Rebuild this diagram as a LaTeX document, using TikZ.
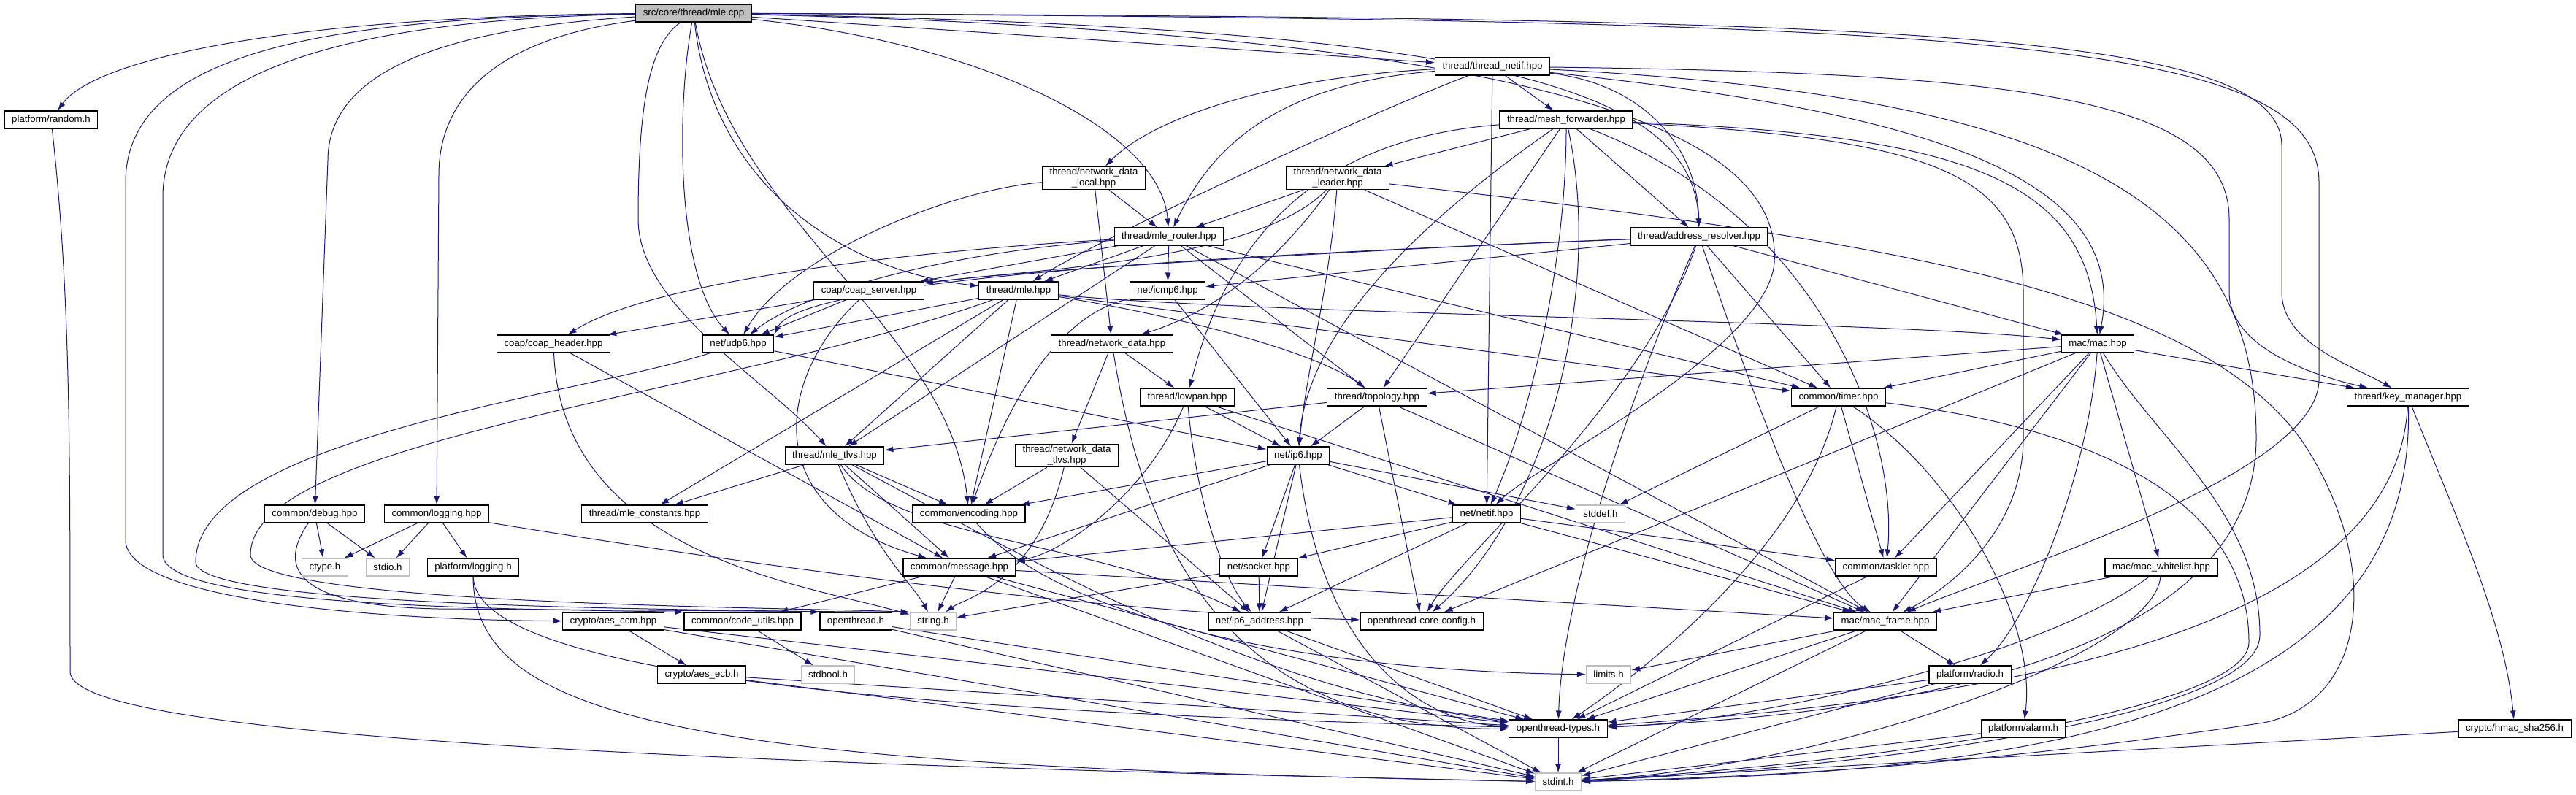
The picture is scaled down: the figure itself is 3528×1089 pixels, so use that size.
\documentclass[tikz,border=0pt]{standalone}
\usepackage{fontspec}
\setmainfont{Liberation Sans}
\usetikzlibrary{arrows.meta,backgrounds}
\definecolor{edgeblue}{RGB}{25,25,112}
\definecolor{sysgray}{RGB}{191,191,191}

\begin{document}
\begin{tikzpicture}[
    x=1pt, y=-1pt,
    hdrbox/.style={draw=black, line width=1.1pt, fill=white,
      font=\fontsize{13.25}{15}\selectfont, minimum height=24pt,
      inner xsep=10pt, inner ysep=2pt, align=center},
    sysbox/.style={hdrbox, draw=sysgray},
    rootbox/.style={hdrbox, fill=sysgray},
    dep/.style={draw=edgeblue, line width=1pt, -{Latex[length=12pt,width=8pt]}}
  ]
  \useasboundingbox (0,0) rectangle (3528,1089);

  % files
  \node[rootbox] (root) at (950,18) {src/core/thread/mle.cpp};
  \node[hdrbox] (random) at (70,164) {platform/random.h};
  \node[hdrbox] (tnetif) at (2044,91) {thread/thread\_netif.hpp};
  \node[hdrbox] (meshfwd) at (2145,164) {thread/mesh\_forwarder.hpp};
  \node[hdrbox] (ndlocal) at (1498,244) {thread/network\_data\\\_local.hpp};
  \node[hdrbox] (ndleader) at (1832,244) {thread/network\_data\\\_leader.hpp};
  \node[hdrbox] (mlerouter) at (1601,324) {thread/mle\_router.hpp};
  \node[hdrbox] (addrres) at (2327,324) {thread/address\_resolver.hpp};
  \node[hdrbox] (coapsrv) at (1190,398) {coap/coap\_server.hpp};
  \node[hdrbox] (mle) at (1395,398) {thread/mle.hpp};
  \node[hdrbox] (icmp) at (1599,398) {net/icmp6.hpp};
  \node[hdrbox] (coaphdr) at (758,471) {coap/coap\_header.hpp};
  \node[hdrbox] (udp) at (1011,471) {net/udp6.hpp};
  \node[hdrbox] (netdata) at (1523,471) {thread/network\_data.hpp};
  \node[hdrbox] (mac) at (2873,471) {mac/mac.hpp};
  \node[hdrbox] (lowpan) at (1626,544) {thread/lowpan.hpp};
  \node[hdrbox] (topo) at (1886,544) {thread/topology.hpp};
  \node[hdrbox] (timer) at (2518,544) {common/timer.hpp};
  \node[hdrbox] (keymgr) at (3298,544) {thread/key\_manager.hpp};
  \node[hdrbox] (mletlvs) at (1143,624) {thread/mle\_tlvs.hpp};
  \node[hdrbox] (ndtlvs) at (1461,624) {thread/network\_data\\\_tlvs.hpp};
  \node[hdrbox] (ip6) at (1778,624) {net/ip6.hpp};
  \node[hdrbox] (debug) at (431,704) {common/debug.hpp};
  \node[hdrbox] (logging) at (598,704) {common/logging.hpp};
  \node[hdrbox] (mleconst) at (883,704) {thread/mle\_constants.hpp};
  \node[hdrbox] (encoding) at (1327,704) {common/encoding.hpp};
  \node[hdrbox] (netif) at (2036,704) {net/netif.hpp};
  \node[sysbox] (stddef) at (2192,704) {stddef.h};
  \node[sysbox] (ctype) at (445,777) {ctype.h};
  \node[sysbox] (stdio) at (531,777) {stdio.h};
  \node[hdrbox] (plog) at (648,777) {platform/logging.h};
  \node[hdrbox] (message) at (1314,777) {common/message.hpp};
  \node[hdrbox] (socket) at (1724,777) {net/socket.hpp};
  \node[hdrbox] (tasklet) at (2583,777) {common/tasklet.hpp};
  \node[hdrbox] (whitelist) at (2960,777) {mac/mac\_whitelist.hpp};
  \node[hdrbox] (aesccm) at (840,851) {crypto/aes\_ccm.hpp};
  \node[hdrbox] (codeutils) at (1017,851) {common/code\_utils.hpp};
  \node[hdrbox] (othread) at (1172,851) {openthread.h};
  \node[sysbox] (string) at (1278,851) {string.h};
  \node[hdrbox] (ip6addr) at (1725,851) {net/ip6\_address.hpp};
  \node[hdrbox] (coreconf) at (1947,851) {openthread-core-config.h};
  \node[hdrbox] (macframe) at (2582,851) {mac/mac\_frame.hpp};
  \node[hdrbox] (aesecb) at (961,924) {crypto/aes\_ecb.h};
  \node[sysbox] (stdbool) at (1134,924) {stdbool.h};
  \node[sysbox] (limits) at (2203,924) {limits.h};
  \node[hdrbox] (radio) at (2698,924) {platform/radio.h};
  \node[hdrbox] (ottypes) at (2134,998) {openthread-types.h};
  \node[hdrbox] (alarm) at (2771,998) {platform/alarm.h};
  \node[hdrbox] (hmac) at (3444,998) {crypto/hmac\_sha256.h};
  \node[sysbox] (stdint) at (2134,1071) {stdint.h};

  \begin{scope}[on background layer]
  % includes of mle.cpp
  \draw[dep] (root) .. controls (400,22) and (130,80) .. (random);
  \draw[dep] (root) .. controls (450,24) and (172,70) .. (172,250) -- (172,740) .. controls (172,820) and (500,849) .. (aesccm);
  \draw[dep] (root) .. controls (500,26) and (223,90) .. (223,270) -- (223,760) .. controls (223,832) and (700,834) .. (codeutils.north west);
  \draw[dep] (root) .. controls (600,40) and (449,100) .. (449,220) -- (debug);
  \draw[dep] (root) .. controls (700,50) and (601,120) .. (601,240) -- (logging);
  \draw[dep] (root) .. controls (890,60) and (874,140) .. (874,300) .. controls (874,420) and (1050,520) .. (mletlvs);
  \draw[dep] (root) .. controls (926,150) and (926,380) .. (udp);
  \draw[dep] (root) .. controls (975,250) and (1150,370) .. (mle);
  \draw[dep] (root) .. controls (1000,300) and (1300,450) .. (encoding);
  \draw[dep] (root) .. controls (1350,60) and (1590,180) .. (mlerouter);
  \draw[dep] (root) -- (tnetif);
  \draw[dep] (root) .. controls (2000,38) and (2320,110) .. (addrres);
  \draw[dep] (root) .. controls (2200,48) and (2440,200) .. (2430,360) .. controls (2420,480) and (2100,640) .. (netif);
  \draw[dep] (root) .. controls (2600,25) and (3125,40) .. (3125,200) -- (3125,400) .. controls (3125,470) and (3220,500) .. (keymgr);
  \draw[dep] (root) .. controls (2700,28) and (3176,50) .. (3176,250) -- (3176,520) .. controls (3176,650) and (2750,780) .. (macframe);

  % thread headers
  \draw[dep] (tnetif) -- (meshfwd);
  \draw[dep] (tnetif) -- (netif);
  \draw[dep] (tnetif) .. controls (1750,105) and (1580,160) .. (ndlocal);
  \draw[dep] (tnetif) .. controls (1750,115) and (1660,200) .. (mlerouter);
  \draw[dep] (tnetif) .. controls (1850,165) and (1500,330) .. (mle);
  \draw[dep] (tnetif) .. controls (2250,115) and (2325,200) .. (addrres);
  \draw[dep] (tnetif) .. controls (2600,150) and (2920,230) .. (mac);
  \draw[dep] (tnetif) .. controls (2750,100) and (3053,130) .. (3053,300) -- (3053,400) .. controls (3053,470) and (3150,510) .. (keymgr);
  \draw[dep] (tnetif) .. controls (2800,130) and (3090,260) .. (3090,600) .. controls (3090,900) and (2600,980) .. (ottypes);

  \foreach \t in {ndleader,topo,addrres} \draw[dep] (meshfwd) -- (\t);
  \draw[dep] (meshfwd) .. controls (1950,300) and (1790,450) .. (ip6);
  \draw[dep] (meshfwd) .. controls (1800,190) and (1680,330) .. (lowpan);
  \draw[dep] (meshfwd) .. controls (2145,350) and (2100,560) .. (netif);
  \draw[dep] (meshfwd) .. controls (2196,400) and (2120,700) .. (coreconf);
  \draw[dep] (meshfwd) .. controls (2700,185) and (2860,250) .. (mac);
  \draw[dep] (meshfwd) .. controls (2500,300) and (2600,600) .. (tasklet);
  \draw[dep] (meshfwd) .. controls (2650,190) and (2771,240) .. (2771,400) -- (2771,600) .. controls (2771,720) and (2680,800) .. (macframe);

  \draw[dep] (ndlocal) -- (mlerouter);
  \draw[dep] (ndlocal) -- (netdata);
  \draw[dep] (ndlocal) .. controls (1300,260) and (1080,350) .. (udp);

  \draw[dep] (ndleader) -- (mlerouter);
  \draw[dep] (ndleader) -- (timer);
  \draw[dep] (ndleader) .. controls (1720,400) and (1620,440) .. (netdata);
  \draw[dep] (ndleader) .. controls (1720,360) and (1400,370) .. (coapsrv);
  \draw[dep] (ndleader) .. controls (1820,400) and (1790,500) .. (ip6);
  \draw[dep] (ndleader) .. controls (2600,330) and (3000,400) .. (3150,600) .. controls (3260,760) and (3250,960) .. (3100,990) .. controls (2700,1050) and (2400,1065) .. (stdint);

  \foreach \t in {coapsrv,mle,icmp,mletlvs,topo,timer,macframe} \draw[dep] (mlerouter) -- (\t);
  \draw[dep] (mlerouter) .. controls (1300,340) and (900,380) .. (coaphdr);
  \draw[dep] (mlerouter) .. controls (1300,345) and (1100,400) .. (udp);

  \foreach \t in {icmp,timer,mac} \draw[dep] (addrres) -- (\t);
  \draw[dep] (addrres) .. controls (1900,340) and (1400,370) .. (coapsrv);
  \draw[dep] (addrres) .. controls (1800,345) and (1100,375) .. (udp.north east);
  \draw[dep] (addrres) .. controls (2250,550) and (2000,760) .. (coreconf);
  \draw[dep] (addrres) .. controls (2250,500) and (2140,800) .. (ottypes);
  \draw[dep] (addrres) .. controls (2420,600) and (2500,800) .. (macframe);

  \draw[dep] (coapsrv) -- (coaphdr);
  \draw[dep] (coapsrv) -- (udp);
  \draw[dep] (coapsrv) .. controls (1060,520) and (1040,700) .. (message);
  \draw[dep] (coaphdr) -- (message);
  \draw[dep] (coaphdr) .. controls (770,760) and (1100,800) .. (string);

  \foreach \t in {udp,mletlvs,encoding,mleconst,timer} \draw[dep] (mle) -- (\t);
  \draw[dep] (mle) .. controls (1700,430) and (2600,440) .. (mac);
  \draw[dep] (mle) .. controls (1600,430) and (1800,480) .. (topo);
  \draw[dep] (mle) .. controls (1000,540) and (343,600) .. (343,760) .. controls (343,830) and (1100,832) .. (string.north west);

  \draw[dep] (udp) -- (ip6);
  \draw[dep] (udp) .. controls (800,540) and (268,600) .. (268,770) .. controls (268,835) and (1000,834) .. (othread.north west);
  \draw[dep] (icmp) -- (ip6);
  \draw[dep] (icmp) .. controls (1450,430) and (1380,550) .. (encoding);

  \draw[dep] (netdata) -- (lowpan);
  \draw[dep] (netdata) -- (ndtlvs);
  \draw[dep] (netdata) .. controls (1560,700) and (1650,1000) .. (ottypes);
  \draw[dep] (lowpan) -- (ip6);
  \draw[dep] (lowpan) -- (macframe);
  \draw[dep] (lowpan) .. controls (1640,700) and (1680,800) .. (ip6addr);
  \draw[dep] (lowpan) .. controls (1570,680) and (1450,760) .. (message);
  \foreach \t in {ip6,mletlvs,macframe,coreconf} \draw[dep] (topo) -- (\t);

  \draw[dep] (timer) -- (stddef);
  \draw[dep] (timer) -- (tasklet);
  \draw[dep] (timer) .. controls (2470,750) and (2250,920) .. (ottypes);
  \draw[dep] (timer) .. controls (2680,650) and (2790,850) .. (alarm);
  \draw[dep] (timer) .. controls (2900,590) and (3080,700) .. (3080,880) .. controls (3080,980) and (2500,1050) .. (stdint);

  \draw[dep] (keymgr) .. controls (3280,880) and (2700,960) .. (ottypes);
  \draw[dep] (keymgr) .. controls (3310,980) and (2800,1060) .. (stdint);
  \draw[dep] (keymgr) .. controls (3360,700) and (3430,850) .. (hmac);

  \foreach \t in {topo,timer,keymgr,macframe,whitelist,tasklet,coreconf} \draw[dep] (mac) -- (\t);
  \draw[dep] (mac) .. controls (2860,650) and (2780,850) .. (radio);
  \draw[dep] (mac) .. controls (2950,600) and (3095,700) .. (3095,870) .. controls (3095,990) and (2500,1055) .. (stdint);

  % lower headers
  \foreach \t in {mleconst,encoding,message} \draw[dep] (mletlvs) -- (\t);
  \draw[dep] (mletlvs) .. controls (1200,760) and (1250,800) .. (string);
  \draw[dep] (mletlvs) .. controls (1220,740) and (1500,740) .. (ip6addr);
  \draw[dep] (mletlvs) .. controls (1400,760) and (1700,940) .. (ottypes);
  \draw[dep] (ndtlvs) -- (encoding);
  \draw[dep] (ndtlvs) -- (ip6addr);
  \draw[dep] (ndtlvs) .. controls (1420,800) and (1320,820) .. (string);
  \foreach \t in {encoding,message,netif,socket,ip6addr,stddef} \draw[dep] (ip6) -- (\t);
  \draw[dep] (ip6) .. controls (1810,900) and (1950,990) .. (ottypes);

  \draw[dep] (debug) -- (ctype);
  \draw[dep] (debug) -- (stdio);
  \draw[dep] (debug) .. controls (385,770) and (390,830) .. (600,834) -- (string.north west);
  \foreach \t in {ctype,stdio,plog} \draw[dep] (logging) -- (\t);
  \draw[dep] (logging) .. controls (1000,770) and (1500,840) .. (coreconf);
  \draw[dep] (plog) .. controls (650,950) and (1500,980) .. (ottypes);
  \draw[dep] (plog) .. controls (648,1000) and (1000,1050) .. (stdint);
  \draw[dep] (encoding) .. controls (1450,850) and (1800,920) .. (limits);

  \foreach \t in {socket,message,ip6addr,macframe,tasklet} \draw[dep] (netif) -- (\t);
  \foreach \t in {codeutils,string,macframe,ottypes,stdint} \draw[dep] (message) -- (\t);
  \draw[dep] (socket) -- (ip6addr);
  \draw[dep] (socket) -- (string);
  \draw[dep] (whitelist) -- (macframe);
  \draw[dep] (whitelist) .. controls (2800,900) and (2400,990) .. (ottypes);
  \draw[dep] (whitelist) .. controls (2950,900) and (2500,1050) .. (stdint);

  \foreach \t in {aesecb,ottypes,stdint} \draw[dep] (aesccm) -- (\t);
  \foreach \t in {ottypes,stdint} \draw[dep] (aesecb) -- (\t);
  \draw[dep] (codeutils) -- (stdbool);
  \foreach \t in {ottypes,stdint} \draw[dep] (othread) -- (\t);
  \foreach \t in {ottypes,stdint} \draw[dep] (ip6addr) -- (\t);
  \foreach \t in {limits,ottypes,stdint,radio} \draw[dep] (macframe) -- (\t);
  \draw[dep] (tasklet) -- (ottypes);
  \foreach \t in {ottypes,stdint} \draw[dep] (radio) -- (\t);
  \draw[dep] (alarm) -- (stdint);
  \draw[dep] (hmac) -- (stdint);
  \draw[dep] (ottypes) -- (stdint);
  \draw[dep] (random) .. controls (96,400) and (96,600) .. (96,920) .. controls (96,990) and (600,1040) .. (stdint);
  \end{scope}
\end{tikzpicture}
\end{document}
